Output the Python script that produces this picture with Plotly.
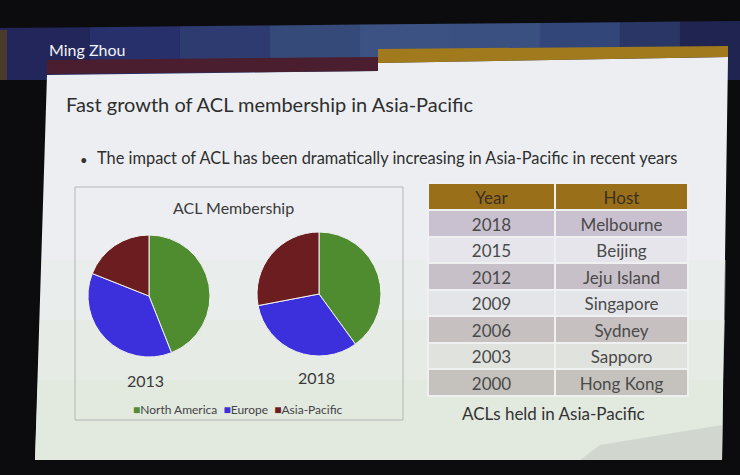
import plotly.graph_objects as go

# pie data (share of members)
regions = ['North America', 'Europe', 'Asia-Pacific']
members_2013 = [44, 37, 19]
members_2018 = [40, 32, 28]
region_colors = ['#4f8b2f', '#3b30dc', '#6b1d1f']

# table data
years = ['2018', '2015', '2012', '2009', '2006', '2003', '2000']
hosts = ['Melbourne', 'Beijing', 'Jeju Island', 'Singapore', 'Sydney', 'Sapporo', 'Hong Kong']

W, H = 740, 475
FONT = 'Lato, Roboto, sans-serif'


def px(x):
    return x / W


def py(y):
    return 1 - y / H


def poly(points, color, opacity=1.0):
    d = 'M ' + ' L '.join('%.4f,%.4f' % (px(x), py(y)) for x, y in points) + ' Z'
    return dict(type='path', xref='paper', yref='paper', path=d,
                fillcolor=color, line=dict(width=0), layer='below', opacity=opacity)


def label(text, x, y, size, color='#333333', anchor='center'):
    return dict(text=text, x=px(x), y=py(y), xref='paper', yref='paper',
                xanchor=anchor, yanchor='middle', showarrow=False,
                font=dict(family=FONT, size=size, color=color))


fig = go.Figure()

fig.add_trace(go.Pie(
    labels=regions, values=members_2013, sort=False, direction='clockwise',
    rotation=0, textinfo='none', hoverinfo='label+percent', showlegend=False,
    marker=dict(colors=region_colors, line=dict(color='#f2f2f2', width=1)),
    domain=dict(x=[px(88), px(210)], y=[py(357), py(235)]),
))
fig.add_trace(go.Pie(
    labels=regions, values=members_2018, sort=False, direction='clockwise',
    rotation=0, textinfo='none', hoverinfo='label+percent', showlegend=False,
    marker=dict(colors=region_colors, line=dict(color='#f2f2f2', width=1)),
    domain=dict(x=[px(257), px(381)], y=[py(356), py(232)]),
))

dark_row = ['#c9c1cf', '#c8c0c9', '#c6c0c0', '#c5c2bd']
light_row = ['#e5e5eb', '#e3e5e9', '#e0e2de']
row_fill = [dark_row[0], light_row[0], dark_row[1], light_row[1],
            dark_row[2], light_row[2], dark_row[3]]

fig.add_trace(go.Table(
    domain=dict(x=[px(428), px(688)], y=[py(402), py(183)]),
    columnwidth=[127, 133],
    header=dict(values=['Year', 'Host'], fill_color='#9a6f1a',
                line=dict(color='#eef0f2', width=2), height=27,
                font=dict(family=FONT, size=17, color='#3a3022'), align='center'),
    cells=dict(values=[years, hosts], fill_color=[row_fill, row_fill],
               line=dict(color='#eef0f2', width=2), height=26.5,
               font=dict(family=FONT, size=17, color='#4a4a4a'), align='center'),
))

# navy band shading, left to right
band_x = [0, 90, 180, 270, 360, 450, 540, 620, 680, 740]
band_c = ['#22265a', '#27306a', '#2e3b70', '#364a7a', '#3b5283', '#3a5081',
          '#33467a', '#2a3666', '#1f2550']

shapes = []
for i, c in enumerate(band_c):
    x0, x1 = band_x[i], band_x[i + 1]
    shapes.append(poly([(x0, 28 - 7 * x0 / 740), (x1, 28 - 7 * x1 / 740), (x1, 80), (x0, 80)], c))

shapes += [
    poly([(0, 30), (7, 30), (7, 80), (0, 80)], '#4a3a2a'),
    # slide body with a soft greenish fade towards the bottom
    poly([(47, 75), (378, 71), (378, 63), (728, 57), (722, 460), (35, 460)], '#eceef2'),
    poly([(42, 260), (726, 260), (725, 320), (40, 320)], '#e4eae0', 0.35),
    poly([(40, 320), (725, 320), (723, 380), (38, 380)], '#e2e9de', 0.6),
    poly([(38, 380), (723, 380), (722, 460), (35, 460)], '#e0e8dc', 0.85),
    poly([(600, 445), (722, 425), (722, 460), (580, 460)], '#c6cac5', 0.6),
    # maroon and gold bars
    poly([(47, 60), (378, 57), (378, 71), (47, 74)], '#4a1e2e'),
    poly([(378, 49), (728, 46), (728, 57), (378, 63)], '#a07a1c'),
    # chart frame
    dict(type='rect', xref='paper', yref='paper', x0=px(75), x1=px(403),
         y0=py(420), y1=py(187), line=dict(color='#b4b6b6', width=1), layer='below'),
]

legend_text = '  '.join('<span style="color:%s">\u25a0</span>%s' % (c, r)
                        for r, c in zip(regions, region_colors))

annotations = [
    label('Ming Zhou', 47, 49, 16, '#f2f2f4', 'left'),
    label('Fast growth of ACL membership in Asia-Pacific', 64, 104, 20, '#2e2e2e', 'left'),
    label('\u2022', 78, 160, 13, '#333333', 'left'),
    label('The impact of ACL has been dramatically increasing in Asia-Pacific in recent years',
          95, 158, 16.4, '#2e2e2e', 'left'),
    label('ACL Membership', 233, 207, 16, '#3a3a3a'),
    label('2013', 145, 380, 16, '#3a3a3a'),
    label('2018', 316, 377, 16, '#3a3a3a'),
    label(legend_text, 238, 409, 12, '#444444'),
    label('ACLs held in Asia-Pacific', 553, 413, 17, '#333333'),
]

fig.update_layout(
    width=W, height=H,
    margin=dict(l=0, r=0, t=0, b=0),
    paper_bgcolor='#0c0c0e',
    plot_bgcolor='#0c0c0e',
    shapes=shapes,
    annotations=annotations,
    showlegend=False,
)

fig.write_html('out.html', config={'displayModeBar': False},
               post_script='document.body.style.margin = "0";')
